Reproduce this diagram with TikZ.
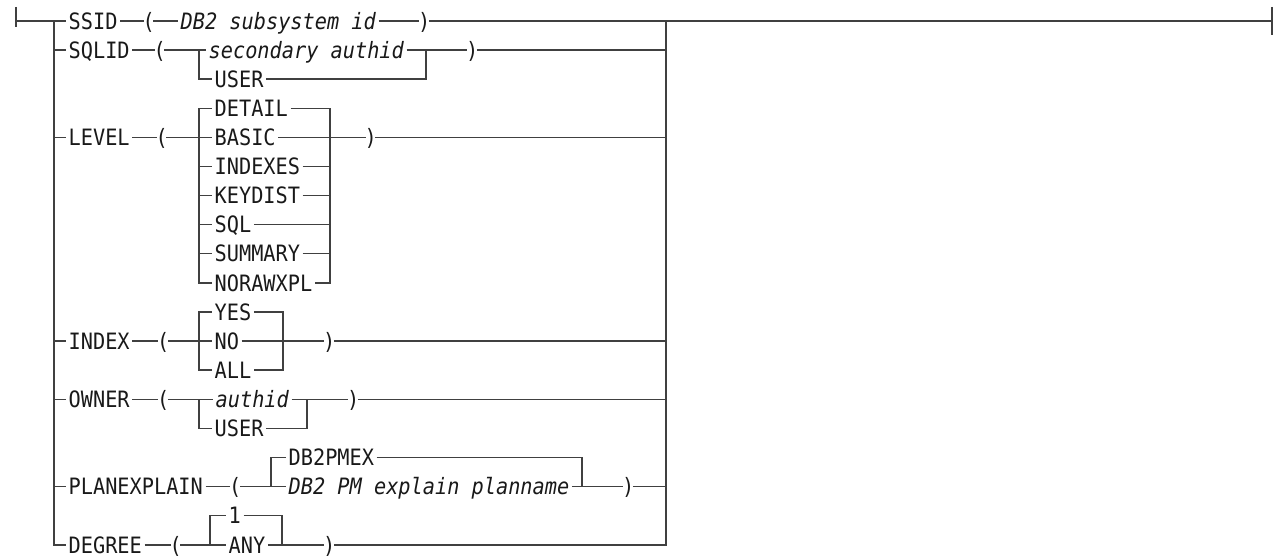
\documentclass[tikz,border=0pt]{standalone}
\usepackage{fontspec}
\newfontfamily\railfont[FakeStretch=0.9]{DejaVu Sans Mono}
\usepackage{tikz}
\usetikzlibrary{positioning}

\begin{document}
\begin{tikzpicture}[x=0.5pt,y=-0.5pt,line width=0.65pt]
		\tikzstyle{rail}=[draw=black!75,line width=0.7pt]
		\tikzstyle{kw}=[inner xsep=1pt,inner ysep=0pt,text height=8.2pt,text depth=0pt,anchor=west,text=black!90,font=\railfont\fontsize{11.26}{13}\selectfont]
		\tikzstyle{var}=[kw,font=\railfont\fontsize{11.26}{13}\selectfont\itshape]
		\tikzstyle{paren}=[kw,inner xsep=-1pt]
		\useasboundingbox (0,0) rectangle (1278,560);

		% entry and exit of the fragment
		\coordinate (start) at (16,21);
		\coordinate (start_top) at (16,7);
		\coordinate (start_bot) at (16,27);
		\coordinate (left_top) at (54,21);
		\coordinate (left_bot) at (54,544.8);
		\coordinate (right_top) at (666,21);
		\coordinate (right_bot) at (666,544.8);
		\coordinate (end) at (1272,21);
		\coordinate (end_top) at (1272,7);
		\coordinate (end_bot) at (1272,35);

		% SSID
		\node[kw] (ssid) at (66,21) {SSID};
		\node[paren] (ssid_open) at (143.9,21) {(};
		\node[var] (ssid_val) at (178,21) {DB2 subsystem id};
		\node[paren] (ssid_close) at (419.4,21) {)};

		% SQLID
		\node[kw] (sqlid) at (66,50.1) {SQLID};
		\node[paren] (sqlid_open) at (154.9,50.1) {(};
		\node[var] (sqlid_val) at (206,50.1) {secondary authid};
		\node[kw] (sqlid_user) at (212,79.2) {USER};
		\node[paren] (sqlid_close) at (467.4,50.1) {)};
		\coordinate (sqlid_split) at (199,50.1);
		\coordinate (sqlid_join) at (426,50.1);

		% LEVEL
		\node[kw] (level) at (66,137.4) {LEVEL};
		\node[paren] (level_open) at (156.9,137.4) {(};
		\node[kw] (level_detail) at (212,108.3) {DETAIL};
		\node[kw] (level_basic) at (212,137.4) {BASIC};
		\node[kw] (level_indexes) at (212,166.5) {INDEXES};
		\node[kw] (level_keydist) at (212,195.6) {KEYDIST};
		\node[kw] (level_sql) at (212,224.7) {SQL};
		\node[kw] (level_summary) at (212,253.8) {SUMMARY};
		\node[kw] (level_norawxpl) at (212,282.9) {NORAWXPL};
		\node[paren] (level_close) at (365.9,137.4) {)};
		\coordinate (level_tl) at (199,108.3);
		\coordinate (level_tr) at (330,108.3);
		\coordinate (level_br) at (330,282.9);

		% INDEX
		\node[kw] (index) at (66,341.1) {INDEX};
		\node[paren] (index_open) at (158.4,341.1) {(};
		\node[kw] (index_yes) at (212,312) {YES};
		\node[kw] (index_no) at (212,341.1) {NO};
		\node[kw] (index_all) at (212,370.2) {ALL};
		\node[paren] (index_close) at (324.4,341.1) {)};
		\coordinate (index_tl) at (199,312);
		\coordinate (index_br) at (283,370.2);

		% OWNER
		\node[kw] (owner) at (66,399.3) {OWNER};
		\node[paren] (owner_open) at (158.4,399.3) {(};
		\node[var] (owner_val) at (213,399.3) {authid};
		\node[kw] (owner_user) at (212,428.4) {USER};
		\node[paren] (owner_close) at (348.4,399.3) {)};
		\coordinate (owner_split) at (199,399.3);
		\coordinate (owner_join) at (307,399.3);

		% PLANEXPLAIN
		\node[kw] (plan) at (66,486.6) {PLANEXPLAIN};
		\node[paren] (plan_open) at (230.4,486.6) {(};
		\node[kw] (plan_default) at (286,457.5) {DB2PMEX};
		\node[var] (plan_val) at (286,486.6) {DB2 PM explain planname};
		\node[paren] (plan_close) at (623.4,486.6) {)};
		\coordinate (plan_bl) at (271,486.6);
		\coordinate (plan_br) at (582,486.6);

		% DEGREE
		\node[kw] (degree) at (66,544.8) {DEGREE};
		\node[paren] (degree_open) at (170.9,544.8) {(};
		\node[kw] (degree_one) at (226,515.7) {1};
		\node[kw] (degree_any) at (226,544.8) {ANY};
		\node[paren] (degree_close) at (324.4,544.8) {)};
		\coordinate (degree_bl) at (210,544.8);
		\coordinate (degree_br) at (282,544.8);

		% main rails
		\draw[rail] (start_top) -- (start_bot);
		\draw[rail] (start) -- (ssid.west);
		\draw[rail] (left_top) |- (degree.west);
		\draw[rail] (right_top) |- (degree_close.east);
		\draw[rail] (right_top) -- (end);
		\draw[rail] (end_top) -- (end_bot);

		\draw[rail] (ssid.east) -- (ssid_open.west);
		\draw[rail] (ssid_open.east) -- (ssid_val.west);
		\draw[rail] (ssid_val.east) -- (ssid_close.west);
		\draw[rail] (ssid_close.east) -- (right_top);

		\draw[rail] (left_top |- sqlid.west) -- (sqlid.west);
		\draw[rail] (sqlid.east) -- (sqlid_open.west);
		\draw[rail] (sqlid_open.east) -- (sqlid_val.west);
		\draw[rail] (sqlid_split) |- (sqlid_user.west);
		\draw[rail] (sqlid_val.east) -- (sqlid_join) |- (sqlid_user.east);
		\draw[rail] (sqlid_join) -- (sqlid_close.west);
		\draw[rail] (sqlid_close.east) -- (right_top |- sqlid_close.east);

		\draw[rail] (left_top |- level.west) -- (level.west);
		\draw[rail] (level.east) -- (level_open.west);
		\draw[rail] (level_open.east) -- (level_basic.west);
		\draw[rail] (level_norawxpl.west) -| (level_tl) -- (level_detail.west);
		\draw[rail] (level_tl |- level_indexes.west) -- (level_indexes.west);
		\draw[rail] (level_tl |- level_keydist.west) -- (level_keydist.west);
		\draw[rail] (level_tl |- level_sql.west) -- (level_sql.west);
		\draw[rail] (level_tl |- level_summary.west) -- (level_summary.west);
		\draw[rail] (level_detail.east) -| (level_br) -- (level_norawxpl.east);
		\draw[rail] (level_basic.east) -- (level_close.west);
		\draw[rail] (level_indexes.east) -- (level_tr |- level_indexes.east);
		\draw[rail] (level_keydist.east) -- (level_tr |- level_keydist.east);
		\draw[rail] (level_sql.east) -- (level_tr |- level_sql.east);
		\draw[rail] (level_summary.east) -- (level_tr |- level_summary.east);
		\draw[rail] (level_close.east) -- (right_top |- level_close.east);

		\draw[rail] (left_top |- index.west) -- (index.west);
		\draw[rail] (index.east) -- (index_open.west);
		\draw[rail] (index_open.east) -- (index_no.west);
		\draw[rail] (index_all.west) -| (index_tl) -- (index_yes.west);
		\draw[rail] (index_yes.east) -| (index_br) -- (index_all.east);
		\draw[rail] (index_no.east) -- (index_close.west);
		\draw[rail] (index_close.east) -- (right_top |- index_close.east);

		\draw[rail] (left_top |- owner.west) -- (owner.west);
		\draw[rail] (owner.east) -- (owner_open.west);
		\draw[rail] (owner_open.east) -- (owner_val.west);
		\draw[rail] (owner_split) |- (owner_user.west);
		\draw[rail] (owner_val.east) -- (owner_join) |- (owner_user.east);
		\draw[rail] (owner_join) -- (owner_close.west);
		\draw[rail] (owner_close.east) -- (right_top |- owner_close.east);

		\draw[rail] (left_top |- plan.west) -- (plan.west);
		\draw[rail] (plan.east) -- (plan_open.west);
		\draw[rail] (plan_open.east) -- (plan_val.west);
		\draw[rail] (plan_bl) |- (plan_default.west);
		\draw[rail] (plan_default.east) -| (plan_br);
		\draw[rail] (plan_val.east) -- (plan_close.west);
		\draw[rail] (plan_close.east) -- (right_top |- plan_close.east);

		\draw[rail] (degree.east) -- (degree_open.west);
		\draw[rail] (degree_open.east) -- (degree_any.west);
		\draw[rail] (degree_bl) |- (degree_one.west);
		\draw[rail] (degree_one.east) -| (degree_br);
		\draw[rail] (degree_any.east) -- (degree_close.west);
	\end{tikzpicture}
\end{document}
